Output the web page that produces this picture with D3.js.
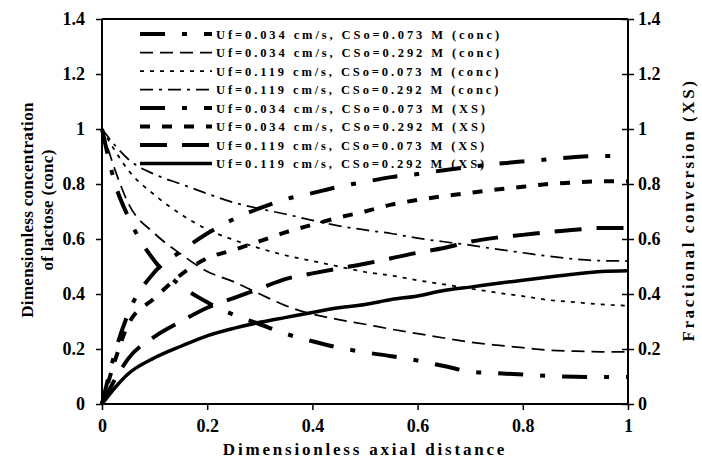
<!DOCTYPE html>
<html>
<head>
<meta charset="utf-8">
<script src="https://cdn.jsdelivr.net/npm/d3@7"></script>
<style>
  body { margin: 0; background: #fff; }
</style>
</head>
<body>
<div id="chart"></div>
<script>
// Data
const distance = [0, 0.025, 0.05, 0.1, 0.15, 0.2, 0.25, 0.3, 0.35, 0.4, 0.45, 0.5,
                  0.55, 0.6, 0.65, 0.7, 0.75, 0.8, 0.85, 0.9, 0.95, 1];

// concentration curves (left axis)
const conc1 = [1, 0.80, 0.68, 0.52, 0.43, 0.37, 0.325, 0.29, 0.255, 0.228, 0.205, 0.188,
               0.174, 0.158, 0.138, 0.118, 0.112, 0.107, 0.102, 0.099, 0.098, 0.098];
const conc2 = [1, 0.85, 0.73, 0.62, 0.545, 0.482, 0.445, 0.40, 0.357, 0.327, 0.307, 0.29,
               0.272, 0.256, 0.24, 0.225, 0.214, 0.205, 0.196, 0.192, 0.19, 0.19];
const conc3 = [1, 0.92, 0.85, 0.76, 0.69, 0.635, 0.597, 0.566, 0.54, 0.52, 0.5, 0.48,
               0.467, 0.45, 0.435, 0.42, 0.405, 0.392, 0.378, 0.37, 0.362, 0.357];
const conc4 = [1, 0.94, 0.89, 0.835, 0.80, 0.765, 0.733, 0.71, 0.69, 0.668, 0.648, 0.633,
               0.62, 0.603, 0.59, 0.578, 0.563, 0.55, 0.537, 0.527, 0.521, 0.52];

// fractional conversion curves (right axis)
const xs1 = [0, 0.19, 0.33, 0.48, 0.555, 0.62, 0.672, 0.712, 0.745, 0.767, 0.79, 0.808,
             0.825, 0.836, 0.85, 0.862, 0.873, 0.882, 0.89, 0.898, 0.902, 0.902];
const xs2 = [0, 0.16, 0.29, 0.385, 0.47, 0.53, 0.56, 0.592, 0.625, 0.652, 0.678, 0.70,
             0.725, 0.742, 0.756, 0.768, 0.78, 0.79, 0.80, 0.806, 0.81, 0.81];
const xs3 = [0, 0.09, 0.165, 0.245, 0.30, 0.35, 0.385, 0.42, 0.455, 0.475, 0.493, 0.51,
             0.53, 0.55, 0.567, 0.59, 0.605, 0.615, 0.625, 0.634, 0.64, 0.64];
const xs4 = [0, 0.06, 0.11, 0.168, 0.21, 0.248, 0.275, 0.297, 0.315, 0.333, 0.35, 0.362,
             0.38, 0.393, 0.413, 0.425, 0.438, 0.45, 0.462, 0.473, 0.482, 0.485];

const seriesNames = [
    "Uf=0.034 cm/s, CSo=0.073 M (conc)",
    "Uf=0.034 cm/s, CSo=0.292 M (conc)",
    "Uf=0.119 cm/s, CSo=0.073 M (conc)",
    "Uf=0.119 cm/s, CSo=0.292 M (conc)",
    "Uf=0.034 cm/s, CSo=0.073 M (XS)",
    "Uf=0.034 cm/s, CSo=0.292 M (XS)",
    "Uf=0.119 cm/s, CSo=0.073 M (XS)",
    "Uf=0.119 cm/s, CSo=0.292 M (XS)"
];
const seriesValues = [conc1, conc2, conc3, conc4, xs1, xs2, xs3, xs4];
const yTicks = [0, 0.2, 0.4, 0.6, 0.8, 1, 1.2, 1.4];
const xTicks = [0, 0.2, 0.4, 0.6, 0.8, 1];

// line styles, same order as the series
const styles = [
    {w: 4, dash: "25,17,5,17"},
    {w: 1.75, dash: "13,7"},
    {w: 1.75, dash: "4,6"},
    {w: 1.75, dash: "13,6,3,6"},
    {w: 4, dash: "25,17,5,17"},
    {w: 4, dash: "10,12"},
    {w: 4, dash: "27,15"},
    {w: 3.5, dash: null}
];

const serif = "'Liberation Serif', 'Times New Roman', 'DejaVu Serif', serif";
const chartWidth = 702, chartHeight = 460;
const plotLeft = 102, plotRight = 628, plotTop = 19, plotBottom = 404;

const svg = d3.select("#chart").append("svg")
    .attr("width", chartWidth)
    .attr("height", chartHeight)
    .attr("font-family", serif)
    .attr("font-weight", "bold");

const xScale = d3.scaleLinear().domain([0, 1]).range([plotLeft, plotRight]);
const yScale = d3.scaleLinear().domain([0, 1.4]).range([plotBottom, plotTop]);
const y2Scale = d3.scaleLinear().domain([0, 1.4]).range([plotBottom, plotTop]);

// curves
const line = d3.line()
    .x(d => xScale(d[0]))
    .y(d => d[2] ? y2Scale(d[1]) : yScale(d[1]))
    .curve(d3.curveMonotoneX);

seriesValues.forEach((vals, i) => {
    const pts = vals.map((v, j) => [distance[j], v, i >= 4]);
    svg.append("path")
        .datum(pts)
        .attr("fill", "none")
        .attr("stroke", "#000")
        .attr("stroke-width", styles[i].w)
        .attr("stroke-dasharray", styles[i].dash)
        .attr("d", line);
});

// frame top
svg.append("line")
    .attr("x1", plotLeft).attr("x2", plotRight)
    .attr("y1", plotTop).attr("y2", plotTop)
    .attr("stroke", "#000").attr("stroke-width", 2);

// axes
const xAxis = svg.append("g")
    .attr("transform", "translate(0," + plotBottom + ")")
    .call(d3.axisBottom(xScale).tickValues(xTicks).tickSize(6).tickPadding(9)
        .tickFormat(d3.format("")));

const yAxis = svg.append("g")
    .attr("transform", "translate(" + plotLeft + ",0)")
    .call(d3.axisLeft(yScale).tickValues(yTicks).tickSize(6).tickPadding(11)
        .tickFormat(d3.format("")));

const y2Axis = svg.append("g")
    .attr("transform", "translate(" + plotRight + ",0)")
    .call(d3.axisRight(y2Scale).tickValues(yTicks).tickSize(6).tickPadding(4)
        .tickFormat(d3.format("")));
y2Axis.selectAll(".tick line").attr("x1", -6);

[xAxis, yAxis, y2Axis].forEach(g => {
    g.attr("font-family", serif).attr("font-size", 18);
    g.select(".domain").attr("stroke-width", 2);
    g.selectAll(".tick line").attr("stroke-width", 1.5);
    g.selectAll(".tick text").attr("fill", "#000");
});
xAxis.select(".domain").attr("d", "M" + plotLeft + ",0H" + plotRight);
yAxis.select(".domain").attr("d", "M0," + plotBottom + "V" + plotTop);
y2Axis.select(".domain").attr("d", "M0," + plotBottom + "V" + plotTop);

// axis titles
svg.append("text")
    .attr("x", (plotLeft + plotRight) / 2)
    .attr("y", 455)
    .attr("text-anchor", "middle")
    .attr("font-size", 17)
    .style("letter-spacing", "2.8px")
    .text("Dimensionless axial distance");

svg.append("text")
    .attr("transform", "translate(33,210) rotate(-90)")
    .attr("text-anchor", "middle")
    .attr("font-size", 17)
    .style("letter-spacing", "0.3px")
    .text("Dimensionless concentration");

svg.append("text")
    .attr("transform", "translate(53,210) rotate(-90)")
    .attr("text-anchor", "middle")
    .attr("font-size", 17)
    .style("letter-spacing", "0.3px")
    .text("of lactose (conc)");

svg.append("text")
    .attr("transform", "translate(694,210) rotate(-90)")
    .attr("text-anchor", "middle")
    .attr("font-size", 17)
    .style("letter-spacing", "2.6px")
    .text("Fractional conversion (XS)");

// legend
const legend = svg.append("g");
seriesNames.forEach((name, i) => {
    const yy = 34 + i * 18.5;
    legend.append("line")
        .attr("x1", 140).attr("x2", 212)
        .attr("y1", yy).attr("y2", yy)
        .attr("stroke", "#000")
        .attr("stroke-width", styles[i].w)
        .attr("stroke-dasharray", styles[i].dash);
    legend.append("text")
        .attr("x", 216)
        .attr("y", yy + 4.5)
        .attr("font-size", 12.5)
        .style("letter-spacing", "2.9px")
        .text(name);
});
</script>
</body>
</html>
